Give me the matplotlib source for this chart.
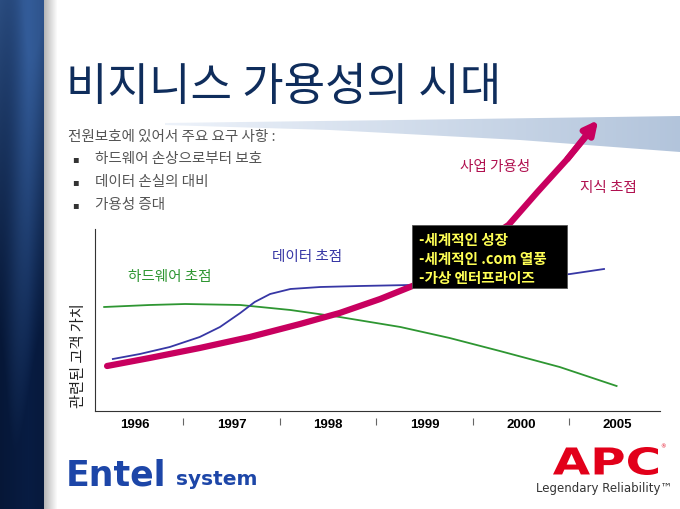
import numpy as np
import matplotlib
matplotlib.use("Agg")
import matplotlib.pyplot as plt
from matplotlib.patches import Rectangle, Polygon, PathPatch
from matplotlib.textpath import TextPath
from matplotlib.font_manager import FontProperties
from matplotlib.transforms import Affine2D

plt.rcParams['font.family'] = ['Noto Sans CJK KR', 'DejaVu Sans']

# ---- data (year index on x, relative customer value on y) ----
years = ['1996', '1997', '1998', '1999', '2000', '2005']

hw_x = [-0.32, 0.15, 0.52, 1.09, 1.61, 2.12, 2.75, 3.26, 3.78, 4.40, 4.99]
hw_y = [104, 106, 107, 106, 101, 94, 84, 73, 60, 44, 25]

data_x = [-0.23, 0.05, 0.36, 0.67, 0.88, 1.09, 1.24, 1.40, 1.61, 1.92, 2.33,
          2.85, 3.26, 3.78, 4.20, 4.51, 4.86]
data_y = [52, 57, 64, 74, 84, 98, 109, 117, 122, 124, 125,
          126, 128, 131, 134, 137, 142]

biz_x = [-0.29, 0.15, 0.67, 1.19, 1.71, 2.12, 2.54, 2.90, 3.21, 3.52, 3.87,
         4.17, 4.48, 4.72]
biz_y = [45, 53, 63, 74, 87, 98, 112, 126, 146, 164, 186, 219, 252, 280]
biz_tip = (4.80, 291)

box_lines = ['-세계적인 성장', '-세계적인 .com 열풍', '-가상 엔터프라이즈']
bullets = ['하드웨어 손상으로부터 보호', '데이터 손실의 대비', '가용성 증대']

GREEN = '#2e9632'
BLUE = '#3737a5'
MAGENTA = '#c8005f'

fig = plt.figure(figsize=(6.8, 5.1), dpi=100)

# background / slide decoration in pixel coordinates
bg = fig.add_axes([0, 0, 1, 1])
bg.set_xlim(0, 680)
bg.set_ylim(510, 0)
bg.axis('off')

# left navy band
rows = np.linspace(0, 1, 510)[:, None]
cols = np.linspace(0, 1, 44)[None, :]
top_c = np.array([0.20, 0.36, 0.60])
bot_c = np.array([0.03, 0.11, 0.26])
mix = np.clip(rows * 1.3 + 0.15 * np.sin(cols * 6 + rows * 3), 0, 1)
band = top_c * (1 - mix[..., None]) + bot_c * mix[..., None]
band = band * (1 - 0.25 * np.abs(cols[..., None] - 0.65))
bg.imshow(band, extent=[0, 44, 510, 0], aspect='auto', zorder=1)
shade = np.linspace(0.72, 1.0, 14)[None, :, None] * np.ones((1, 14, 3))
bg.imshow(shade, extent=[44, 58, 510, 0], aspect='auto', zorder=1)

# light blue swoosh under the title
sw = Polygon([(165, 124), (400, 121), (680, 117), (680, 153),
              (520, 141), (330, 131), (165, 126)], closed=True,
             facecolor='none', edgecolor='none')
bg.add_patch(sw)
g = np.linspace(0, 1, 200)[None, :, None]
sw_img = np.array([0.93, 0.95, 0.98]) * (1 - g) + np.array([0.70, 0.77, 0.86]) * g
im = bg.imshow(sw_img, extent=[165, 680, 160, 115], aspect='auto', zorder=1)
im.set_clip_path(sw)
bg.set_xlim(0, 680)
bg.set_ylim(510, 0)

# title and requirement list
bg.text(66, 87, '비지니스 가용성의 시대', fontsize=32.5, color='#0f2d5c',
        va='center', ha='left')
bg.text(68, 137, '전원보호에 있어서 주요 요구 사항 :', fontsize=10.5,
        color='#555555', va='center')
for i, b in enumerate(bullets):
    yy = 159 + i * 23
    bg.text(72, yy, '▪', fontsize=7, color='#333333', va='center',
            family=['DejaVu Sans'])
    bg.text(95, yy, b, fontsize=10.5, color='#555555', va='center')

# footer logos
bg.text(66, 476, 'Entel', fontsize=25, fontweight='bold', color='#1d46a8',
        family=['DejaVu Sans'], va='center')
bg.text(176, 480, 'system', fontsize=14.5, fontweight='bold', color='#1d46a8',
        family=['DejaVu Sans'], va='center')
tp = TextPath((0, 0), 'APC', size=1, prop=FontProperties(family='DejaVu Sans', weight='bold'))
ext = tp.get_extents()
sx = (658 - 553) / ext.width
sy = (476 - 448) / ext.height
tr = Affine2D().translate(-ext.x0, -ext.y0).scale(sx, -sy).translate(553, 476)
bg.add_patch(PathPatch(tr.transform_path(tp), facecolor='#e2001a', edgecolor='none', zorder=3))
bg.text(660, 447, '®', fontsize=4, color='#e2001a', va='center', family=['DejaVu Sans'])
bg.text(604, 489, 'Legendary Reliability™', fontsize=8.5, color='#333333',
        ha='center', va='center', family=['Liberation Sans Narrow', 'DejaVu Sans'])

# ---- chart ----
ax = fig.add_axes([95 / 680, (510 - 412) / 510, (660 - 95) / 680, (412 - 115) / 510])
ax.patch.set_alpha(0)
ax.set_xlim(-0.415, 5.44)
ax.set_ylim(0, 297)
for s in ['top', 'right']:
    ax.spines[s].set_visible(False)
ax.spines['left'].set_bounds(0, 182)
ax.spines['left'].set_color('#333333')
ax.spines['bottom'].set_color('#333333')
ax.spines['left'].set_linewidth(0.8)
ax.spines['bottom'].set_linewidth(0.8)
ax.set_yticks([])
ax.set_xticks(range(len(years)))
ax.set_xticklabels(years, fontsize=9.5, fontweight='bold', family=['Liberation Sans', 'DejaVu Sans'])
ax.tick_params(axis='x', length=0, pad=5)
mids = [i + 0.5 for i in range(len(years) - 1)]
ax.vlines(mids, -0.046, -0.022, transform=ax.get_xaxis_transform(),
          color='#666666', lw=0.8, clip_on=False)
ax.set_ylabel('관련된 고객 가치', fontsize=11, color='#222222', labelpad=1)
ax.yaxis.set_label_coords(-0.014, 0.19)

ax.plot(hw_x, hw_y, color=GREEN, lw=1.3, zorder=2)
ax.plot(data_x, data_y, color=BLUE, lw=1.3, zorder=2)
ax.plot(biz_x, biz_y, color=MAGENTA, lw=4.5, solid_capstyle='round',
        solid_joinstyle='round', zorder=3, clip_on=False)
ax.annotate('', xy=biz_tip, xytext=(biz_x[-2], biz_y[-2]),
            arrowprops=dict(arrowstyle='-|>,head_length=0.8,head_width=0.4',
                            color=MAGENTA, lw=4.5, shrinkA=0, shrinkB=0),
            zorder=3, annotation_clip=False)

# black callout box
ax.add_patch(Rectangle((412, 226), 155, 63, transform=bg.transData,
                       facecolor='black', edgecolor='#555555', lw=0.6,
                       zorder=5, clip_on=False))
for i, t in enumerate(box_lines):
    ax.text(419, 240 + i * 19, t, transform=bg.transData, fontsize=10.5,
            fontweight='bold', color='#ffff55', va='center', zorder=6)

# series labels
bg.text(128, 277, '하드웨어 초점', fontsize=10.5, color=GREEN, va='center', zorder=6)
bg.text(272, 257, '데이터 초점', fontsize=10.5, color=BLUE, va='center', zorder=6)
bg.text(460, 167, '사업 가용성', fontsize=10.5, color='#b0104f', va='center', zorder=6)
bg.text(580, 188, '지식 초점', fontsize=10.5, color='#b0104f', va='center', zorder=6)

fig.savefig('out.png', dpi=100)
